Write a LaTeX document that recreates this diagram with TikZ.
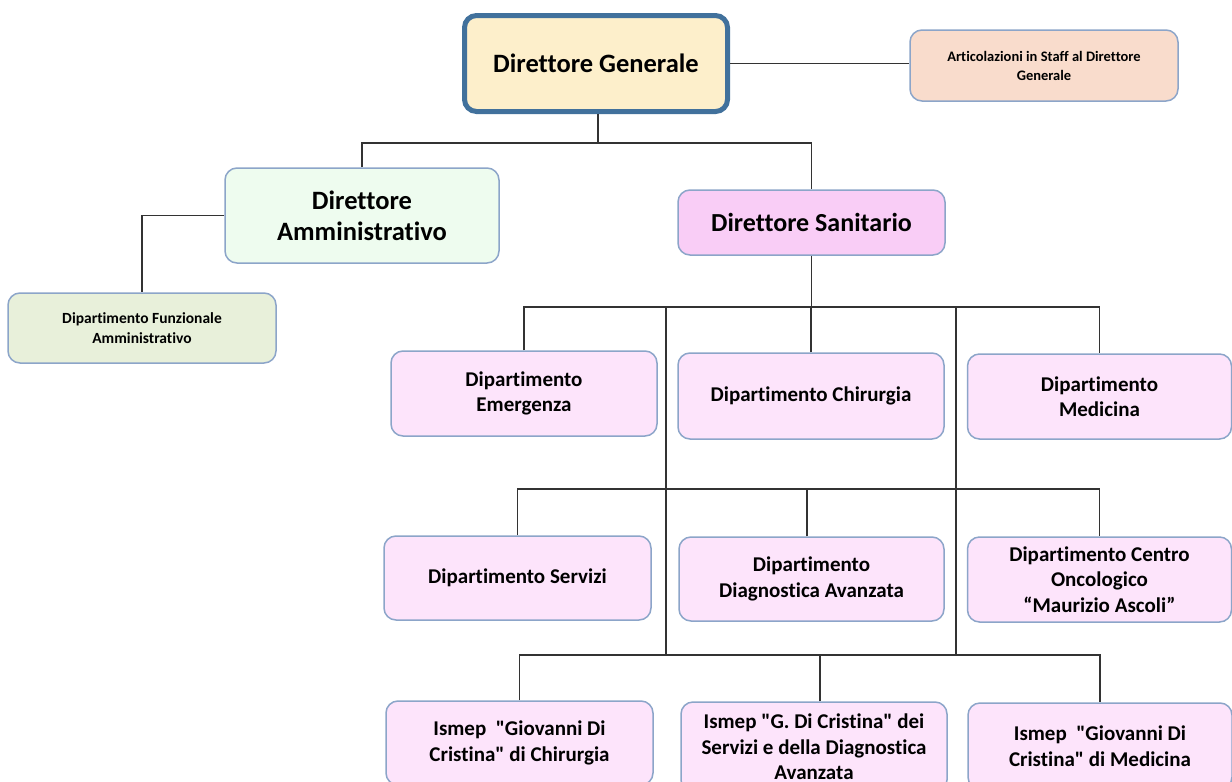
\documentclass[tikz,border=0pt]{standalone}
\usepackage{fontspec}
\setmainfont{Carlito}[Ligatures={NoCommon,TeXOff}]
\definecolor{dgfill}{HTML}{FDEFCB}
\definecolor{dgline}{HTML}{41719C}
\definecolor{artfill}{HTML}{F9DCCC}
\definecolor{dafill}{HTML}{EEFCEF}
\definecolor{dfafill}{HTML}{E8F0DA}
\definecolor{dsfill}{HTML}{F9CDF6}
\definecolor{depfill}{HTML}{FDE4FB}
\definecolor{boxline}{HTML}{8CA5C9}
\definecolor{conn}{HTML}{333333}
\tikzset{
  orgbox/.style={draw=boxline, line width=1.5pt, rounded corners=12pt, align=center,
    font=\bfseries, text=black, inner sep=2pt},
  depbox/.style={orgbox, fill=depfill, font=\bfseries\fontsize{21}{25.5}\selectfont},
  link/.style={draw=conn, line width=1.3pt},
}
\begin{document}
\begin{tikzpicture}[x=1pt,y=-1pt]
\useasboundingbox (0,0) rectangle (1232,782);
\clip (0,0) rectangle (1232,782);
\fill[white] (0,0) rectangle (1232,782);

% top level
\node[orgbox, draw=dgline, line width=5pt, fill=dgfill, minimum width=263pt, minimum height=96pt,
  font=\bfseries\fontsize{26.5}{31}\selectfont] (DG) at (596,63.5) {Direttore Generale};
\node[orgbox, fill=artfill, minimum width=268pt, minimum height=71pt,
  font=\bfseries\fontsize{14.5}{19}\selectfont] (Art) at (1044,65.5)
  {Articolazioni in Staff al Direttore\\Generale};
\node[orgbox, fill=dafill, minimum width=274pt, minimum height=95pt,
  font=\bfseries\fontsize{26.5}{31}\selectfont] (DA) at (362,215.5) {Direttore\\Amministrativo};
\node[orgbox, fill=dfafill, minimum width=268pt, minimum height=70pt,
  font=\bfseries\fontsize{15.5}{20}\selectfont] (DFA) at (142,328)
  {Dipartimento Funzionale\\Amministrativo};
\node[orgbox, fill=dsfill, minimum width=267pt, minimum height=65pt,
  font=\bfseries\fontsize{26}{31}\selectfont] (DS) at (811.5,222.5) {Direttore Sanitario};

% row 1
\node[depbox, minimum width=266pt, minimum height=85pt] (Em) at (524,393.5) {Dipartimento\\Emergenza};
\node[depbox, minimum width=266pt, minimum height=86pt] (Chir) at (811,396) {Dipartimento Chirurgia};
\node[depbox, minimum width=264pt, minimum height=85pt] (Med) at (1099.5,396.5) {Dipartimento\\Medicina};

% row 2
\node[depbox, minimum width=267pt, minimum height=84pt] (Serv) at (517.5,578) {Dipartimento Servizi};
\node[depbox, minimum width=265pt, minimum height=84pt] (Diag) at (811.5,579) {Dipartimento\\Diagnostica Avanzata};
\node[depbox, minimum width=264pt, minimum height=85pt] (Onc) at (1099.5,579.5)
  {Dipartimento Centro\\Oncologico\\“Maurizio Ascoli”};

% row 3
\node[depbox, minimum width=267pt, minimum height=84pt] (IsC) at (519.5,743)
  {Ismep\ \ "Giovanni Di\\Cristina" di Chirurgia};
\node[depbox, minimum width=266pt, minimum height=90pt] (IsG) at (814,747)
  {Ismep "G. Di Cristina" dei\\Servizi e della Diagnostica\\Avanzata};
\node[depbox, minimum width=264pt, minimum height=86pt] (IsM) at (1100,746)
  {Ismep\ \ "Giovanni Di\\Cristina" di Medicina};

% bus coordinates
\coordinate (b1) at (598,143);
\coordinate (b2) at (811,307);
\coordinate (b3) at (807,489);
\coordinate (b4) at (820,655);
\coordinate (t1a) at (666,307);
\coordinate (t1b) at (666,655);
\coordinate (t2a) at (956,307);
\coordinate (t2b) at (956,655);

% connectors
\draw[link] (DG.east) -- (DG.east -| Art.west);
\draw[link] (DG.south -| b1) -- (b1);
\draw[link] (DA.north) |- (b1) -| (DS.north);
\draw[link] (DA.west) -| (DFA.north);
\draw[link] (DS.south) -- (DS.south |- b2);
\draw[link] (Em.north) |- (b2) -| (Med.north);
\draw[link] (Chir.north) -- (Chir.north |- b2);
\draw[link] (t1a) -- (t1b);
\draw[link] (t2a) -- (t2b);
\draw[link] (Serv.north) |- (b3) -| (Onc.north);
\draw[link] (Diag.north -| b3) -- (b3);
\draw[link] (IsC.north) |- (b4) -| (IsM.north);
\draw[link] (IsG.north -| b4) -- (b4);
\end{tikzpicture}
\end{document}
